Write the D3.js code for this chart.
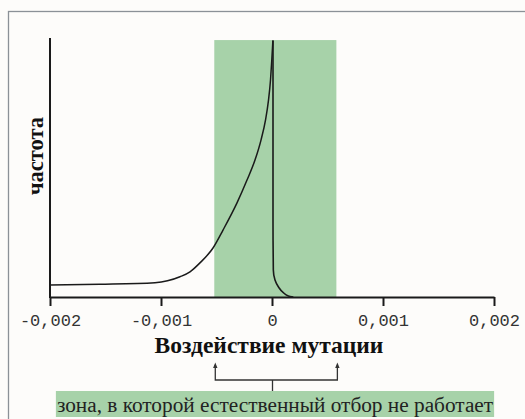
<!DOCTYPE html>
<html>
<head>
<meta charset="utf-8">
<script src="https://cdn.jsdelivr.net/npm/d3@7"></script>
<style>
  html, body { margin: 0; padding: 0; background: #fdfcfa; }
  svg { display: block; }
</style>
</head>
<body>
<svg id="chart" width="525" height="419"></svg>
<script>
// ---- data ----
const xTickValues = [-0.002, -0.001, 0, 0.001, 0.002];
const xTickLabels = ["-0,002", "-0,001", "0", "0,001", "0,002"];
const zoneStart = -0.00052;
const zoneEnd = 0.00058;
// left curve (distribution of deleterious effects), x = mutation effect, y = relative frequency
const leftX = [-0.002, -0.00155, -0.001054, -0.000829, -0.000739, -0.000649, -0.0005315, -0.0004414, -0.0003153,
               -0.0002252, -0.0001532, -0.0000991, -0.0000586, -0.0000315, -0.0000135, -0.0000018, 0.000008];
const leftY = [0.047, 0.050, 0.056, 0.079, 0.098, 0.133, 0.191, 0.261, 0.367,
               0.456, 0.534, 0.612, 0.690, 0.768, 0.846, 0.924, 1.0];
// right curve (beneficial side)
const rightX = [0.000009, 0.000009, 0.000012, 0.000027, 0.000057, 0.000102, 0.000147, 0.000192];
const rightY = [1.0, 0.30, 0.105, 0.066, 0.040, 0.017, 0.004, 0.0];
const yMax = 1.01;
const xTitle = "Воздействие мутации";
const yTitle = "частота";
const zoneLabel = "зона, в которой естественный отбор не работает";

// ---- layout ----
const svg = d3.select("#chart");
const x = d3.scaleLinear().domain([-0.002, 0.002]).range([50, 494]);
const y = d3.scaleLinear().domain([0, yMax]).range([297, 38]);
const green = "#a7d2a9";
const serif = "'Liberation Serif', 'Times New Roman', Tinos, serif";

// frame
svg.append("rect").attr("x", 8.5).attr("y", 11.5).attr("width", 530).attr("height", 420)
  .attr("fill", "#fdfcfa").attr("stroke", "#8b9197").attr("stroke-width", 1.3);

// zone
svg.append("rect")
  .attr("x", x(zoneStart)).attr("y", y(1.0) - 0.5)
  .attr("width", x(zoneEnd) - x(zoneStart))
  .attr("height", y(0) - y(1.0) + 0.5)
  .attr("fill", green);

// curves
const leftData = leftX.map((v, i) => [v, leftY[i]]);
const rightData = rightX.map((v, i) => [v, rightY[i]]);
svg.append("path").datum(leftData)
  .attr("d", d3.line().x(d => x(d[0])).y(d => y(d[1])).curve(d3.curveMonotoneX))
  .attr("fill", "none").attr("stroke", "#1a1a1a").attr("stroke-width", 1.5);
svg.append("path").datum(rightData)
  .attr("d", d3.line().x(d => x(d[0])).y(d => y(d[1])).curve(d3.curveMonotoneY))
  .attr("fill", "none").attr("stroke", "#1a1a1a").attr("stroke-width", 1.6);

// x axis
const xAxis = d3.axisBottom(x).tickValues(xTickValues)
  .tickFormat((d, i) => xTickLabels[i]).tickSize(9).tickSizeOuter(0).tickPadding(8);
const gx = svg.append("g").attr("transform", `translate(0,${y(0)})`).call(xAxis);
gx.select(".domain").attr("stroke", "#1a1a1a").attr("stroke-width", 2);
gx.selectAll(".tick line").attr("stroke", "#1a1a1a").attr("stroke-width", 2);
gx.selectAll(".tick text").style("font-family", "'Liberation Mono', 'Courier New', monospace")
  .style("font-size", "17px").attr("fill", "#333");

// y axis line
svg.append("line").attr("x1", x(-0.002)).attr("x2", x(-0.002))
  .attr("y1", y(0) + 1).attr("y2", y(yMax))
  .attr("stroke", "#1a1a1a").attr("stroke-width", 2);

// titles
svg.append("text").attr("x", 269).attr("y", 353).attr("text-anchor", "middle")
  .style("font-family", serif).style("font-weight", "bold").style("font-size", "23.5px")
  .attr("fill", "#111").text(xTitle);
svg.append("text").attr("transform", "translate(43,156) rotate(-90)").attr("text-anchor", "middle")
  .style("font-family", serif).style("font-weight", "bold").style("font-size", "22.5px")
  .attr("fill", "#111").text(yTitle);

// bracket with arrows
const bx1 = x(zoneStart) + 1, bx2 = x(zoneEnd) + 1, bxm = x(0) + 0.5;
svg.append("path")
  .attr("d", `M${bx1},365 L${bx1},380 L${bx2},380 L${bx2},365`)
  .attr("fill", "none").attr("stroke", "#333").attr("stroke-width", 1.3);
[bx1, bx2].forEach(bx => {
  svg.append("path").attr("d", `M${bx - 2.2},368 L${bx},362.5 L${bx + 2.2},368 Z`).attr("fill", "#333");
});
svg.append("line").attr("x1", bxm).attr("x2", bxm).attr("y1", 380).attr("y2", 392)
  .attr("stroke", "#333").attr("stroke-width", 1.3);

// zone label
const lblG = svg.append("g");
const lblRect = lblG.append("rect").attr("fill", green);
const lbl = lblG.append("text").attr("x", 275).attr("y", 412).attr("text-anchor", "middle")
  .style("font-family", serif).style("font-size", "21.3px")
  .attr("fill", "#222").text(zoneLabel);
const bb = lbl.node().getBBox();
lblRect.attr("x", bb.x - 1).attr("y", 391).attr("width", bb.width + 2).attr("height", 26);
</script>
</body>
</html>
